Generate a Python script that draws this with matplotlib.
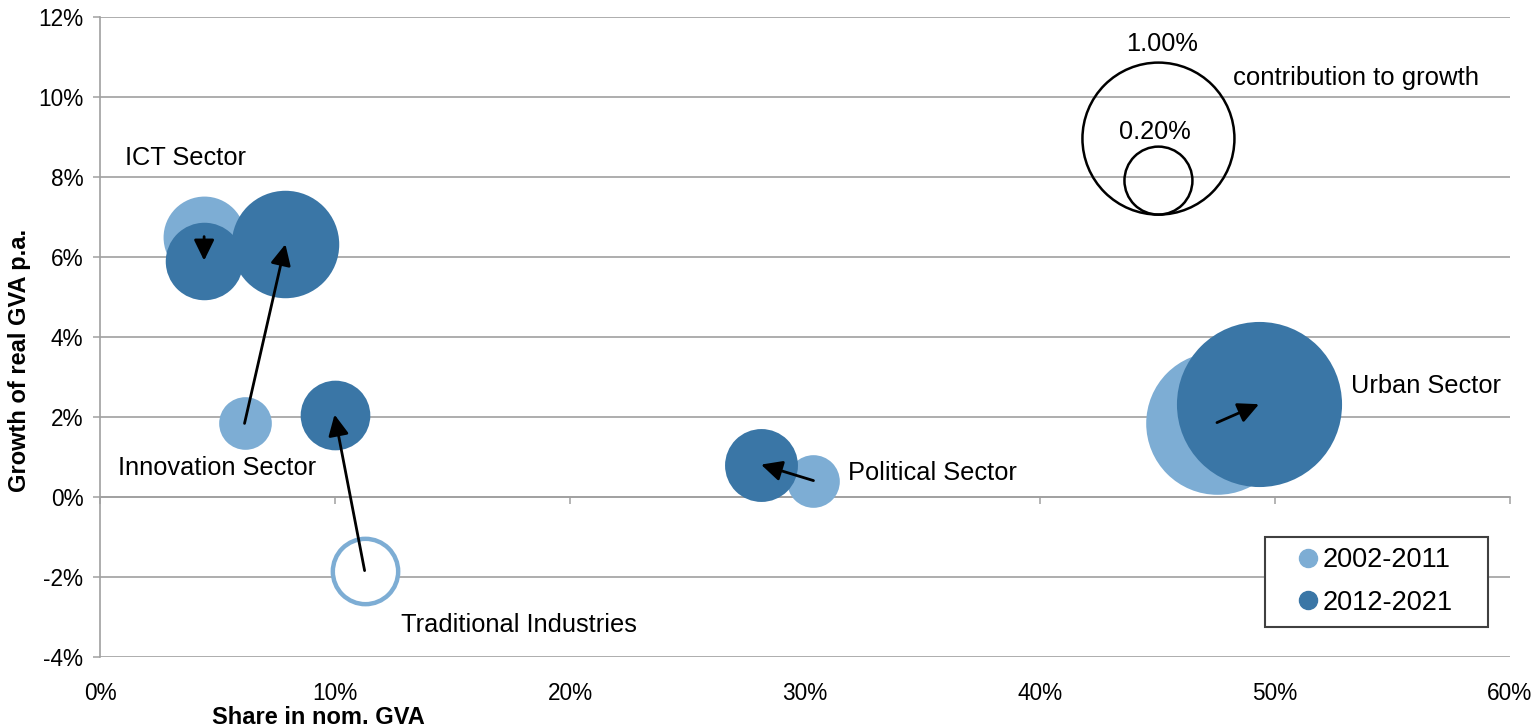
import numpy as np
import matplotlib
matplotlib.use("Agg")
import matplotlib.pyplot as plt
from matplotlib.lines import Line2D
from matplotlib.patches import Rectangle
from matplotlib import transforms

# ---------------- data ----------------
sectors = ["ICT Sector", "Innovation Sector", "Traditional Industries",
           "Political Sector", "Urban Sector"]
periods = ["2002-2011", "2012-2021"]
# share in nominal GVA (%)
share_0211 = [4.43, 6.15, 11.26, 30.36, 47.53]
share_1221 = [4.43, 7.89, 9.98, 28.13, 49.32]
# growth of real GVA p.a. (%)
growth_0211 = [6.51, 1.84, -1.84, 0.41, 1.86]
growth_1221 = [5.91, 6.32, 2.06, 0.81, 2.32]
# contribution to growth (%), bubble area
contrib_0211 = [0.29, 0.12, -0.21, 0.12, 0.88]
contrib_1221 = [0.26, 0.50, 0.21, 0.23, 1.18]
# size key
key_values = [1.00, 0.20]
key_labels = ["1.00%", "0.20%"]

x_ticks = [0, 10, 20, 30, 40, 50, 60]
y_ticks = [-4, -2, 0, 2, 4, 6, 8, 10, 12]

# ---------------- style ----------------
LIGHT = "#7DADD4"
DARK = "#3A76A6"
GRID = "#A0A0A0"
DPI = 100
R_PX_PER_SQRT = 76.0          # radius in px of a 1.00% bubble
R_PT = R_PX_PER_SQRT * 72.0 / DPI

def bubble_size(c):
    return (2 * R_PT) ** 2 * abs(c)

plt.rcParams["font.family"] = ["Liberation Sans", "DejaVu Sans"]

fig = plt.figure(figsize=(15.39, 7.26), dpi=DPI)
ax = fig.add_axes([100 / 1539, 1 - 657 / 726, 1410 / 1539, 640 / 726])
ax.set_xlim(0, 60)
ax.set_ylim(-4, 12)

# grid
ax.set_yticks(y_ticks)
ax.set_yticklabels([f"{v}%" for v in y_ticks], fontsize=16.3)
ax.yaxis.grid(True, color=GRID, lw=1.2)
ax.set_axisbelow(True)
ax.tick_params(axis="y", direction="out", length=5, width=1.1, color=GRID, pad=7)

for s in ["top", "right"]:
    ax.spines[s].set_visible(False)
ax.spines["left"].set_color(GRID)
ax.spines["left"].set_linewidth(1.2)
ax.spines["bottom"].set_visible(False)

# tick labels at bottom, axis line at y = 0
ax.set_xticks(x_ticks)
ax.set_xticklabels([f"{v}%" for v in x_ticks], fontsize=16.3)
ax.tick_params(axis="x", length=0, pad=18)

y0_frac = (0 - ax.get_ylim()[0]) / (ax.get_ylim()[1] - ax.get_ylim()[0])
sec = ax.secondary_xaxis(y0_frac)
sec.set_xticks(x_ticks)
sec.tick_params(axis="x", direction="out", length=5, width=1.1, color=GRID, labelbottom=False)
sec.spines["bottom"].set_color(GRID)
sec.spines["bottom"].set_linewidth(1.2)

# bubbles
for sh, gr, c in zip(share_0211, growth_0211, contrib_0211):
    if c >= 0:
        ax.scatter(sh, gr, s=bubble_size(c), color=LIGHT, linewidths=0, zorder=3)
    else:
        ax.scatter(sh, gr, s=bubble_size(c) * 0.88, facecolor="white",
                   edgecolor=LIGHT, linewidths=3.2, zorder=3)
for sh, gr, c in zip(share_1221, growth_1221, contrib_1221):
    ax.scatter(sh, gr, s=bubble_size(c), color=DARK, linewidths=0, zorder=4)

# arrows from 2002-2011 to 2012-2021
for x1, y1, x2, y2 in zip(share_0211, growth_0211, share_1221, growth_1221):
    ax.annotate("", xy=(x2, y2), xytext=(x1, y1),
                arrowprops=dict(arrowstyle="-|>,head_length=0.45,head_width=0.22",
                                color="black", lw=2,
                                mutation_scale=28, shrinkA=0, shrinkB=0),
                zorder=6)

# sector labels
label_pos = {
    "ICT Sector": (1.06, 8.30),
    "Innovation Sector": (0.77, 0.55),
    "Traditional Industries": (12.81, -3.38),
    "Political Sector": (31.83, 0.42),
    "Urban Sector": (53.23, 2.61),
}
for name in sectors:
    x, y = label_pos[name]
    ax.text(x, y, name, fontsize=18.3, ha="left", va="baseline", zorder=7)

# size key (bottom aligned circles)
key_x, key_bottom = 45.04, 7.06
for v in key_values:
    r_pt = R_PT * np.sqrt(v)
    tr = transforms.offset_copy(ax.transData, fig=fig, x=0, y=r_pt, units="points")
    ax.scatter([key_x], [key_bottom], s=bubble_size(v), facecolor="none",
               edgecolor="black", linewidths=1.8, transform=tr, zorder=5)
ax.text(45.2, 11.16, key_labels[0], fontsize=18.3, ha="center", va="baseline")
ax.text(44.9, 8.94, key_labels[1], fontsize=18.3, ha="center", va="baseline")
ax.text(48.21, 10.29, "contribution to growth", fontsize=18.5, ha="left", va="baseline")

# axis titles
lab_font = dict(family=["Liberation Sans Narrow", "Liberation Sans"], weight="bold", size=17)
fig.text(318 / 1539, 1 - 717 / 726, "Share in nom. GVA", ha="center", va="center", **lab_font)
fig.text(20 / 1539, 1 - 360 / 726, "Growth of real GVA p.a.", ha="center", va="center",
         rotation=90, **lab_font)

# legend (frame drawn separately)
handles = [Line2D([], [], marker="o", ls="none", color=LIGHT, markersize=13),
           Line2D([], [], marker="o", ls="none", color=DARK, markersize=13)]
leg = ax.legend(handles, periods, loc="center left",
                bbox_to_anchor=((1294 - 100) / 1410, (657 - 581.5) / 640),
                fontsize=19.5, frameon=False, handlelength=1.0,
                handletextpad=0.05, borderpad=0, labelspacing=0.62, borderaxespad=0)
leg.set_zorder(8)
ax.add_patch(Rectangle(((1265 - 100) / 1410, (657 - 627) / 640), 223 / 1410, 90 / 640,
                       transform=ax.transAxes, facecolor="white", edgecolor="#404040",
                       lw=1.5, zorder=7.5))

fig.savefig("out.png", dpi=DPI)
